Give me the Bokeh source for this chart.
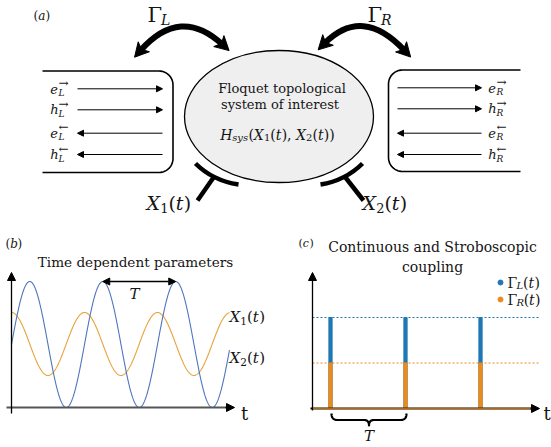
import numpy as np
from bokeh.plotting import figure
from bokeh.models import Range1d, Arrow, NormalHead
from bokeh.layouts import column, row
from bokeh.core.properties import value
from bokeh.embed import file_html
from bokeh.resources import INLINE

# ---------------- data ----------------
lead_letters = ["e", "h", "e", "h"]
lead_dirs = ["→", "→", "←", "←"]
system_lines = ["Floquet topological", "system of interest"]
title_b = "Time dependent parameters"
title_c = ["Continuous and Stroboscopic", "coupling"]
# panel (b): drive parameters, time in units of the period T
b_t_end = 2.986
x2_offset, x2_amp = 0.5, 0.5      # X2(t) (blue, sine)
x1_offset, x1_amp = 0.504, 0.25   # X1(t) (orange, cosine)
period_marks = [1.25, 2.25]
# panel (c): coupling pulses
pulse_times = [0.25, 1.25, 2.25]
gamma_L_level = 1.0
gamma_R_level = 0.5
legend_subs = ["L", "R"]

FONT = "DejaVu Serif"
INK = "#151515"
BLUE_B, ORANGE_B = "#4f76bd", "#e8a23a"
BLUE_C, ORANGE_C = "#1f77b4", "#ec8a1c"

W_TBL = {" ": .318, ",": .318, ".": .318, "(": .39, ")": .39, "i": .32, "l": .32,
         "t": .42, "f": .37, "r": .48, "s": .51, "m": .95, "→": .838, "←": .838,
         "Γ": .64, "H": .85, "X": .72, "L": .66, "R": .72, "T": .68}

def text_w(s, size):
    w = 0
    for c in s:
        if c in W_TBL:
            w += W_TBL[c]
        elif c.isdigit():
            w += .636
        elif c.isupper():
            w += .72
        else:
            w += .6
    return w * size

def make_fig(w, h, xr, yr):
    p = figure(width=w, height=h, x_range=Range1d(*xr), y_range=Range1d(*yr),
               x_axis_type=None, y_axis_type=None, toolbar_location=None,
               output_backend="svg", min_border=0)
    p.outline_line_color = None
    p.background_fill_color = "white"
    p.border_fill_color = "white"
    return p

def ident(v):
    return v

def rich(p, x, y, parts, align="left", cx=ident, cy=ident, color=INK):
    total = sum(text_w(s, sz) for s, sz, it, dy in parts)
    x0 = x - total / 2 if align == "center" else (x - total if align == "right" else x)
    for s, sz, it, dy in parts:
        p.text(x=[cx(x0)], y=[cy(y + dy)], text=[s], text_font=value(FONT),
               text_font_size=f"{sz}px", text_font_style="italic" if it else "normal",
               text_align="left", text_baseline="middle", text_color=color)
        x0 += text_w(s, sz)

def plain(p, x, y, s, size, align="center", italic=False, cx=ident, cy=ident):
    p.text(x=[cx(x)], y=[cy(y)], text=[s], text_font=value(FONT),
           text_font_size=f"{size}px", text_font_style="italic" if italic else "normal",
           text_align=align, text_baseline="middle", text_color=INK)

def qpts(p0, c, p1, n=20):
    t = np.linspace(0, 1, n)[:, None]
    p0, c, p1 = map(np.array, (p0, c, p1))
    return (1 - t) ** 2 * p0 + 2 * (1 - t) * t * c + t ** 2 * p1

def head(p, end, ctrl, hw=7.5):
    end = np.array(end, float)
    d = end - np.array(ctrl, float)
    d /= np.linalg.norm(d)
    n = np.array([-d[1], d[0]])
    tip = end + d * 9
    base = end - d * 5
    notch = end - d * 1.5
    pts = [tip, base + n * hw, notch, base - n * hw]
    p.patch([q[0] for q in pts], [q[1] for q in pts], color="black")

def arrow(p, xs, ys, xe, ye, size=6, lw=1.0, color="black", start=False):
    p.add_layout(Arrow(x_start=xs, y_start=ys, x_end=xe, y_end=ye, line_width=lw,
                       line_color=color,
                       end=NormalHead(size=size, fill_color="black", line_color="black", line_width=1),
                       start=NormalHead(size=size, fill_color="black", line_color="black", line_width=1) if start else None))

# ================= panel (a) =================
pa = make_fig(551, 220, (0, 551), (220, 0))

rich(pa, 33, 15, [("(", 12, False, 0), ("a", 12, True, 0), (")", 12, False, 0)])
rich(pa, 147, 14, [("Γ", 21, False, 0), ("L", 14, True, 5)])
rich(pa, 367, 14, [("Γ", 21, False, 0), ("R", 14, True, 5)])

# curved coupling arrows
for (p0, c, p1) in [((140, 50), (180, 5), (222, 44)), ((324, 43), (362, 5), (404, 50))]:
    pa.quadratic(x0=[p0[0]], y0=[p0[1]], x1=[p1[0]], y1=[p1[1]], cx=[c[0]], cy=[c[1]],
                 line_width=6, line_color="black")
    head(pa, p0, c)
    head(pa, p1, c)

# system ellipse
pa.ellipse(x=[278.5], y=[116], width=[189], height=[132], fill_color="#efefef",
           line_color="black", line_width=1.3)
plain(pa, 281.5, 88, system_lines[0], 13)
plain(pa, 279.5, 103.5, system_lines[1], 13)
H = [("H", 14, True, 0), ("sys", 10, True, 3), ("(", 14, False, 0), ("X", 14, True, 0),
     ("1", 10, False, 3), ("(", 14, False, 0), ("t", 14, True, 0), ("), ", 14, False, 0),
     ("X", 14, True, 0), ("2", 10, False, 3), ("(", 14, False, 0), ("t", 14, True, 0),
     ("))", 14, False, 0)]
rich(pa, 277, 134, H, align="center")

# leads (rounded boxes, open on the outer side)
def rbox(p, x_open, x_side, yt, yb, r):
    s = 1 if x_side > x_open else -1
    xs = [x_open, x_side - s * r]
    ys = [yt, yt]
    a = np.linspace(-np.pi / 2, 0, 15)
    xs += list(x_side - s * r + s * r * np.cos(a)); ys += list(yt + r + r * np.sin(a))
    a = np.linspace(0, np.pi / 2, 15)
    xs += list(x_side - s * r + s * r * np.cos(a)); ys += list(yb - r + r * np.sin(a))
    xs += [x_open]; ys += [yb]
    p.line(xs, ys, line_color="black", line_width=1.6)

rbox(pa, 42, 172.5, 70.5, 172, 14)
rbox(pa, 520, 388, 69.5, 171, 14)

rows_L = [88.3, 109.3, 132.7, 154]
rows_R = [87.3, 108.3, 132.7, 154]
for i, (yl, yr_) in enumerate(zip(rows_L, rows_R)):
    if lead_dirs[i] == "→":
        arrow(pa, 77, yl, 162, yl, size=6)
        arrow(pa, 397, yr_, 481, yr_, size=6)
    else:
        arrow(pa, 162, yl, 77, yl, size=6)
        arrow(pa, 481, yr_, 397, yr_, size=6)
    for x_edge, yy, sub in [(57.5, yl, "L"), (495.5, yr_, "R")]:
        rich(pa, x_edge, yy, [(lead_letters[i], 13, True, 0)], align="right")
        plain(pa, x_edge + 0.5, yy - 6, lead_dirs[i], 12, align="left")
        plain(pa, x_edge + 0.5, yy + 4, sub, 9, align="left", italic=True)

# gates
for (p0, c, p1), (s0, s1) in [(((195, 163), (212, 180), (238, 184)), ((213, 177), (197, 200))),
                             (((320, 184), (345, 180), (362, 163)), ((345, 177), (363, 200)))]:
    pa.quadratic(x0=[p0[0]], y0=[p0[1]], x1=[p1[0]], y1=[p1[1]], cx=[c[0]], cy=[c[1]],
                 line_width=4.5, line_color="black")
    pa.segment(x0=[s0[0]], y0=[s0[1]], x1=[s1[0]], y1=[s1[1]], line_width=4.5, line_color="black")

for xl, n in [(146, "1"), (362, "2")]:
    rich(pa, xl, 202, [("X", 19, True, 0), (n, 13, False, 5), ("(", 19, False, 0),
                       ("t", 19, True, 0), (")", 19, False, 0)])

# ================= panel (b) =================
def XB(px): return (px - 11) / 73.0
def YB(py): return (407 - py) / 126.0

pb = make_fig(275, 227, (XB(0), XB(275)), (YB(447), YB(220)))
rich(pb, 5, 243, [("(", 12, False, 0), ("b", 12, True, 0), (")", 12, False, 0)], cx=XB, cy=YB)
plain(pb, 135, 261, title_b, 13.6, cx=XB, cy=YB)

tb = np.linspace(0, b_t_end, 500)
x2 = x2_offset + x2_amp * np.sin(2 * np.pi * tb)
x1 = x1_offset + x1_amp * np.cos(2 * np.pi * tb)
pb.line(tb, x1, line_color=ORANGE_B, line_width=1.1)
pb.line(tb, x2, line_color=BLUE_B, line_width=1.1)

# axes
pb.line([XB(6), XB(229)], [0, 0], line_color="#555555", line_width=2)
arrow(pb, XB(225), 0, XB(234), 0, size=8, lw=1.5)
arrow(pb, 0, YB(413), 0, YB(272), size=8, lw=1.3)
plain(pb, 244, 413, "t", 18, cx=XB, cy=YB)

# period marker
arrow(pb, period_marks[0], x2_offset + x2_amp, period_marks[1], x2_offset + x2_amp,
      size=7, lw=1.6, start=True)
plain(pb, 134, 293, "T", 15, italic=True, cx=XB, cy=YB)
for yy, n in [(316, "1"), (357, "2")]:
    rich(pb, 229, yy, [("X", 15, True, 0), (n, 10.5, False, 4), ("(", 15, False, 0),
                       ("t", 15, True, 0), (")", 15, False, 0)], cx=XB, cy=YB)

# ================= panel (c) =================
def XC(px): return (px - 311.25) / 75.0
def YC(py): return (408 - py) / 91.0

pc = make_fig(276, 227, (XC(275), XC(551)), (YC(447), YC(220)))
rich(pc, 298, 243, [("(", 11, False, 0), ("c", 11, True, 0), (")", 11, False, 0)], cx=XC, cy=YC)
plain(pc, 432, 246, title_c[0], 14, cx=XC, cy=YC)
plain(pc, 432, 266, title_c[1], 14, cx=XC, cy=YC)

# legend
for yy, col, sub in [(282, BLUE_C, legend_subs[0]), (299, ORANGE_C, legend_subs[1])]:
    pc.scatter([XC(500)], [YC(yy)], size=5, color=col)
    rich(pc, 507, yy, [("Γ", 14, False, 0), (sub, 10, True, 3), ("(", 14, False, 0),
                       ("t", 14, True, 0), (")", 14, False, 0)], cx=XC, cy=YC)

t_end_c = XC(540)
pc.line([XC(312), t_end_c], [gamma_L_level] * 2, line_color=BLUE_C, line_width=1.2, line_dash="2 2")
pc.line([XC(312), t_end_c], [gamma_R_level] * 2, line_color=ORANGE_C, line_width=1.2, line_dash="2 2")

pc.vbar(x=pulse_times, width=3.2 / 75, bottom=0, top=gamma_L_level, color=BLUE_C)
pc.vbar(x=pulse_times, width=3.2 / 75, bottom=0, top=gamma_R_level, color=ORANGE_C)

# axes
arrow(pc, XC(312), YC(410), XC(312), YC(272), size=8, lw=1.3)
pc.line([XC(310), XC(534)], [0, 0], line_color="black", line_width=2.2)
arrow(pc, XC(530), 0, XC(539), 0, size=8, lw=1.5)
pc.line([XC(312), XC(532)], [0, 0], line_color=ORANGE_C, line_width=1.6, line_alpha=0.75)
plain(pc, 543, 413, "t", 18, align="left", cx=XC, cy=YC)

# brace under the first period
bx0, bx1 = 331, 406
bm = (bx0 + bx1) / 2
segs = [qpts((bx0, 413), (bx0, 419.5), (bx0 + 6, 419.5)),
        np.array([[bx0 + 6, 419.5], [bm - 5, 419.5]]),
        qpts((bm - 5, 419.5), (bm, 419.5), (bm, 425)),
        qpts((bm, 425), (bm, 419.5), (bm + 5, 419.5)),
        np.array([[bm + 5, 419.5], [bx1 - 6, 419.5]]),
        qpts((bx1 - 6, 419.5), (bx1, 419.5), (bx1, 413))]
bp = np.vstack(segs)
pc.line([XC(v) for v in bp[:, 0]], [YC(v) for v in bp[:, 1]], line_color="black",
        line_width=2.2, line_join="round")
plain(pc, bm, 435, "T", 15, italic=True, cx=XC, cy=YC)

layout = column(pa, row(pb, pc, spacing=0), spacing=0)
open("out.html", "w").write(file_html(layout, INLINE))
